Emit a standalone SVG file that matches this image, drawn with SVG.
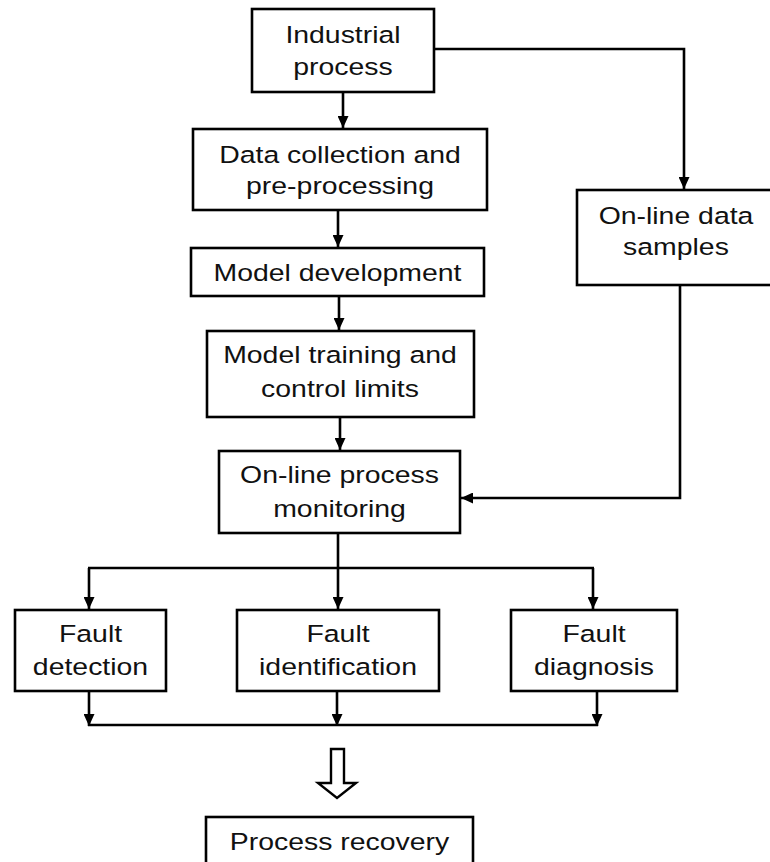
<svg xmlns="http://www.w3.org/2000/svg" width="770" height="862" viewBox="0 0 770 862">
<style>
  .box { fill: #fff; stroke: #000; stroke-width: 2.6; }
  .lbl { font-family: "Liberation Sans", Arial, sans-serif; font-size: 24.5px; fill: #111; text-anchor: middle; }
  .ln { fill: none; stroke: #000; stroke-width: 2.6; }
  .arr { fill: none; stroke: #000; stroke-width: 2.6; marker-end: url(#ah); }
</style>
<defs>
  <marker id="ah" markerUnits="userSpaceOnUse" markerWidth="12" markerHeight="11" refX="12" refY="5.5" orient="auto">
    <path d="M0,0 L12,5.5 L0,11 z" fill="#000"/>
  </marker>
</defs>
<rect width="770" height="862" fill="#fff"/>

<g id="connectors">
  <line class="arr" x1="343" y1="92" x2="343" y2="128"/>
  <path class="arr" d="M434,49 H684 V189"/>
  <line class="arr" x1="338" y1="210" x2="338" y2="247"/>
  <line class="arr" x1="339" y1="296" x2="339" y2="330"/>
  <line class="arr" x1="340" y1="417" x2="340" y2="450"/>
  <path class="arr" d="M680,285 V498 H461"/>
  <line class="ln" x1="338" y1="533" x2="338" y2="568"/>
  <line class="ln" x1="88" y1="568" x2="594" y2="568"/>
  <line class="arr" x1="89" y1="568" x2="89" y2="609"/>
  <line class="arr" x1="338" y1="568" x2="338" y2="609"/>
  <line class="arr" x1="593" y1="568" x2="593" y2="609"/>
  <line class="arr" x1="89" y1="691" x2="89" y2="726"/>
  <line class="arr" x1="337" y1="691" x2="337" y2="726"/>
  <line class="arr" x1="597" y1="691" x2="597" y2="726"/>
  <line class="ln" x1="88" y1="725" x2="598" y2="725"/>
  <polygon points="331,749 344,749 344,783 356,783 337,798 318,783 331,783" fill="#fff" stroke="#000" stroke-width="2.4" stroke-linejoin="miter"/>
</g>

<g id="industrial">
  <rect class="box" x="252" y="9" width="182" height="83"/>
  <text class="lbl" transform="matrix(1.16 0 0 1 343 0)" x="0" y="43">Industrial</text>
  <text class="lbl" transform="matrix(1.16 0 0 1 343 0)" x="0" y="75">process</text>
</g>
<g id="data-collection">
  <rect class="box" x="193" y="129" width="294" height="81"/>
  <text class="lbl" transform="matrix(1.16 0 0 1 340 0)" x="0" y="163">Data collection and</text>
  <text class="lbl" transform="matrix(1.16 0 0 1 340 0)" x="0" y="194">pre-processing</text>
</g>
<g id="model-development">
  <rect class="box" x="191" y="248" width="293" height="48"/>
  <text class="lbl" transform="matrix(1.16 0 0 1 337.5 0)" x="0" y="281">Model development</text>
</g>
<g id="model-training">
  <rect class="box" x="207" y="331" width="267" height="86"/>
  <text class="lbl" transform="matrix(1.16 0 0 1 340 0)" x="0" y="363">Model training and</text>
  <text class="lbl" transform="matrix(1.16 0 0 1 340 0)" x="0" y="397">control limits</text>
</g>
<g id="online-monitoring">
  <rect class="box" x="219" y="451" width="241" height="82"/>
  <text class="lbl" transform="matrix(1.16 0 0 1 339.5 0)" x="0" y="483">On-line process</text>
  <text class="lbl" transform="matrix(1.16 0 0 1 339.5 0)" x="0" y="517">monitoring</text>
</g>
<g id="online-samples">
  <rect class="box" x="577" y="190" width="196" height="95"/>
  <text class="lbl" transform="matrix(1.16 0 0 1 676 0)" x="0" y="224">On-line data</text>
  <text class="lbl" transform="matrix(1.16 0 0 1 676 0)" x="0" y="255">samples</text>
</g>
<g id="fault-detection">
  <rect class="box" x="15" y="610" width="151" height="81"/>
  <text class="lbl" transform="matrix(1.16 0 0 1 90.5 0)" x="0" y="642">Fault</text>
  <text class="lbl" transform="matrix(1.16 0 0 1 90.5 0)" x="0" y="675">detection</text>
</g>
<g id="fault-identification">
  <rect class="box" x="237" y="610" width="202" height="81"/>
  <text class="lbl" transform="matrix(1.16 0 0 1 338 0)" x="0" y="642">Fault</text>
  <text class="lbl" transform="matrix(1.16 0 0 1 338 0)" x="0" y="675">identification</text>
</g>
<g id="fault-diagnosis">
  <rect class="box" x="511" y="610" width="166" height="81"/>
  <text class="lbl" transform="matrix(1.16 0 0 1 594 0)" x="0" y="642">Fault</text>
  <text class="lbl" transform="matrix(1.16 0 0 1 594 0)" x="0" y="675">diagnosis</text>
</g>
<g id="process-recovery">
  <rect class="box" x="206" y="817" width="267" height="60"/>
  <text class="lbl" transform="matrix(1.16 0 0 1 339.5 0)" x="0" y="850">Process recovery</text>
</g>
</svg>
